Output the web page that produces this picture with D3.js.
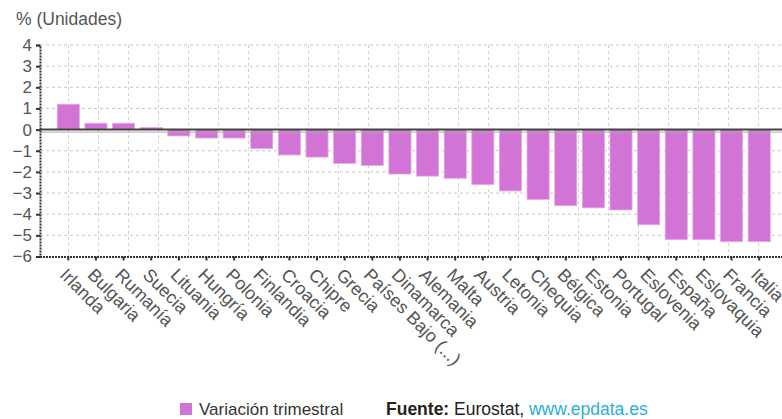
<!DOCTYPE html>
<html>
<head>
<meta charset="utf-8">
<script src="https://cdn.jsdelivr.net/npm/d3@7"></script>
<style>
  body { margin: 0; background: #fff; }
  svg { display: block; font-family: "Liberation Sans", Arial, sans-serif; }
</style>
</head>
<body>
<svg id="chart" width="782" height="419"></svg>
<script>
// data
const paises = ["Irlanda", "Bulgaria", "Rumanía", "Suecia", "Lituania", "Hungría", "Polonia",
  "Finlandia", "Croacia", "Chipre", "Grecia", "Países Bajo (...)", "Dinamarca", "Alemania",
  "Malta", "Austria", "Letonia", "Chequia", "Bélgica", "Estonia", "Portugal", "Eslovenia",
  "España", "Eslovaquia", "Francia", "Italia"];
const variacion = [1.2, 0.3, 0.3, 0.1, -0.3, -0.4, -0.4, -0.9, -1.2, -1.3, -1.6, -1.7, -2.1,
  -2.2, -2.3, -2.6, -2.9, -3.3, -3.6, -3.7, -3.8, -4.5, -5.2, -5.2, -5.3, -5.3];
const yTicks = [4, 3, 2, 1, 0, -1, -2, -3, -4, -5, -6];

const svg = d3.select("#chart");
const plotLeft = 40, plotRight = 782, plotTop = 45, plotBottom = 256.5;
const textColor = "#555";
const barColor = "#d273d6";

const y = d3.scaleLinear().domain([-6, 4]).range([plotBottom, plotTop]);
const x = d3.scaleBand().domain(paises).range([54.5, 773]).paddingInner(0.2).paddingOuter(0.1);

// grid
svg.append("g").selectAll("line")
  .data(yTicks.filter(d => d !== 0 && d !== -6))
  .enter().append("line")
  .attr("x1", plotLeft).attr("x2", plotRight)
  .attr("y1", d => y(d)).attr("y2", d => y(d))
  .attr("stroke", "#c8c8c8").attr("stroke-dasharray", "3,3");

svg.append("g").selectAll("line")
  .data(d3.range(68.5, plotRight, 30))
  .enter().append("line")
  .attr("x1", d => d).attr("x2", d => d)
  .attr("y1", plotTop).attr("y2", plotBottom)
  .attr("stroke", "#d0d0d0").attr("stroke-dasharray", "3,3");

// bars
svg.append("g").selectAll("rect")
  .data(paises)
  .enter().append("rect")
  .attr("x", d => x(d))
  .attr("width", x.bandwidth())
  .attr("y", (d, i) => y(Math.max(0, variacion[i])))
  .attr("height", (d, i) => Math.abs(y(variacion[i]) - y(0)))
  .attr("fill", barColor)
  .attr("stroke", "#e9a8ea").attr("stroke-width", 0.8);

// zero line
svg.append("line").attr("x1", plotLeft).attr("x2", plotRight)
  .attr("y1", y(0)).attr("y2", y(0)).attr("stroke", "#444").attr("stroke-width", 2);
svg.append("line").attr("x1", plotLeft).attr("x2", plotRight)
  .attr("y1", y(0) + 2.5).attr("y2", y(0) + 2.5).attr("stroke", "#aaa").attr("stroke-width", 1);

// y axis
const yAxis = svg.append("g").attr("transform", `translate(${plotLeft},0)`)
  .call(d3.axisLeft(y).tickValues(yTicks).tickSize(4).tickFormat(d3.format("d")));
yAxis.select(".domain").attr("stroke", "#333").attr("stroke-width", 2).attr("stroke-dasharray", "2,1");
yAxis.selectAll(".tick line").attr("stroke", "#333").attr("stroke-width", 2);
yAxis.selectAll("text").attr("fill", textColor).style("font-size", "17px").attr("x", -8);

// x axis
const xAxis = svg.append("g").attr("transform", `translate(0,${plotBottom})`)
  .call(d3.axisBottom(x).tickSize(4).tickSizeOuter(0));
xAxis.select(".domain").attr("d", `M${plotLeft},0.5H${plotRight}`)
  .attr("stroke", "#333").attr("stroke-width", 2).attr("stroke-dasharray", "2,1");
xAxis.selectAll(".tick line").attr("stroke", "#333").attr("stroke-width", 2);
xAxis.selectAll("text")
  .attr("fill", textColor).style("font-size", "18px")
  .attr("text-anchor", "start")
  .attr("dy", "0.35em")
  .attr("transform", "translate(-5,15) rotate(45)")
  .attr("x", 0).attr("y", 0);

// title
svg.append("text").attr("x", 16).attr("y", 25)
  .attr("fill", textColor).style("font-size", "17.5px").text("% (Unidades)");

// legend
svg.append("rect").attr("x", 180).attr("y", 403).attr("width", 12).attr("height", 12).attr("fill", barColor);
svg.append("text").attr("x", 199).attr("y", 415).attr("fill", "#333").style("font-size", "17px")
  .text("Variación trimestral");
const src = svg.append("text").attr("x", 386).attr("y", 415).style("font-size", "17.5px").attr("fill", "#222");
src.append("tspan").attr("font-weight", "bold").text("Fuente:");
src.append("tspan").text(" Eurostat, ");
src.append("tspan").attr("fill", "#2bb0dc").text("www.epdata.es");
</script>
</body>
</html>
